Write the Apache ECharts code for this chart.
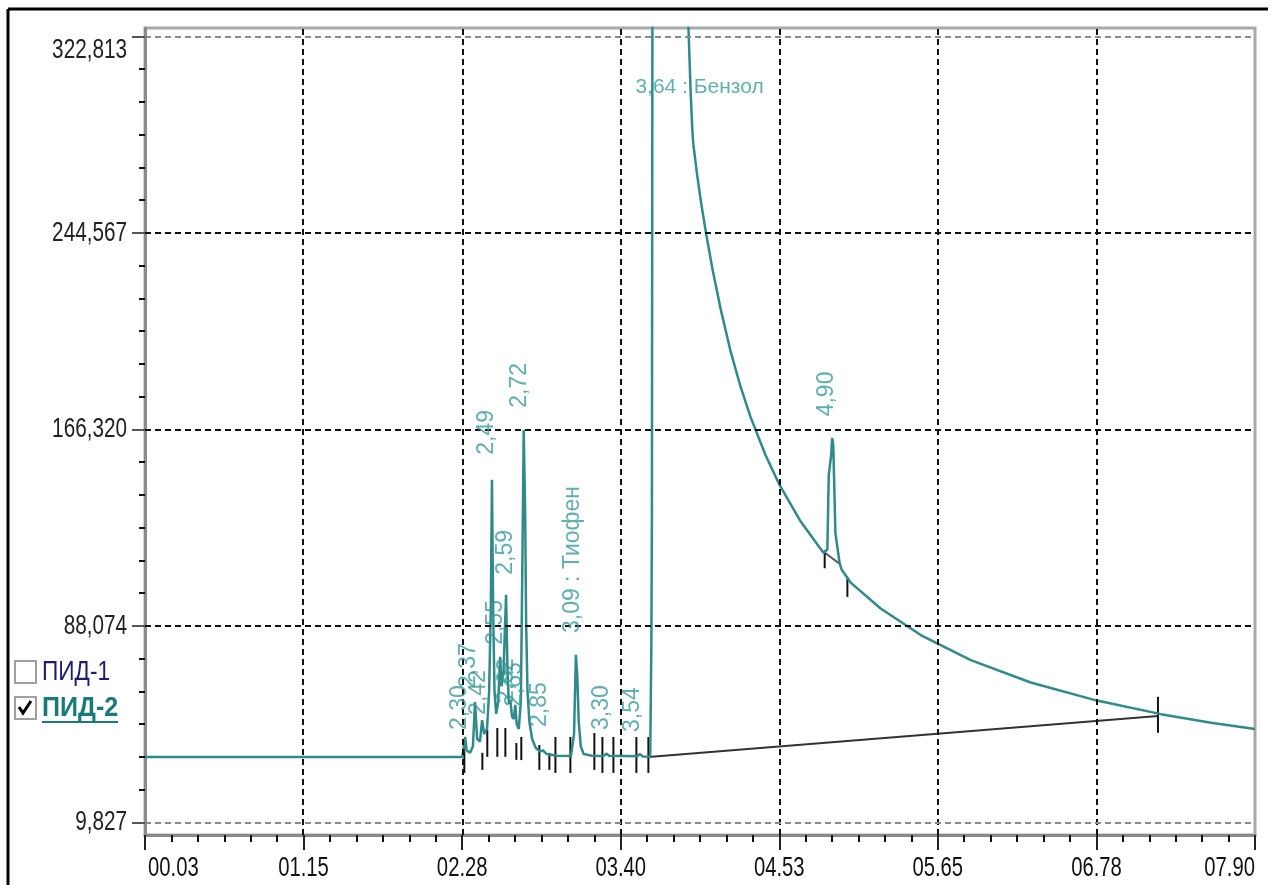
<!DOCTYPE html>
<html><head><meta charset="utf-8">
<script src="https://cdn.jsdelivr.net/npm/echarts@6/dist/echarts.min.js"></script>
<style>html,body{margin:0;padding:0;background:#fff;}#c{width:1275px;height:885px;}</style>
</head><body><div id="c"></div>
<script>
// ---- axis ticks ----
const xTickValues = [0.03, 1.154, 2.279, 3.403, 4.527, 5.651, 6.776, 7.90];
const xTickLabels = ['00.03','01.15','02.28','03.40','04.53','05.65','06.78','07.90'];
const yTickValues = [9.827, 88.074, 166.320, 244.567, 322.813];
const yTickLabels = ['9,827','88,074','166,320','244,567','322,813'];
const xRange = [0.03, 7.90];
const yRange = [4.77, 326.16];

// ---- detector signal (ПИД-2) [time, value] ----
const signal = [
 [0.03,35.85],[2.28,35.85],[2.292,36.2],[2.30,43.8],[2.31,38.5],[2.335,37.5],[2.355,40.0],
 [2.37,57.7],[2.385,43.0],[2.405,42.0],[2.42,50.5],[2.435,45.0],[2.455,47.0],[2.47,62],
 [2.482,96],[2.49,146.2],[2.498,96],[2.508,62],[2.52,53],[2.535,58],[2.548,75.7],[2.558,64],
 [2.572,70],[2.59,100.4],[2.60,70],[2.61,57],[2.62,58.6],[2.632,52],[2.645,51],[2.655,56.6],
 [2.665,49],[2.68,47],[2.695,58],[2.705,110],[2.715,166.1],[2.725,135],[2.732,90],[2.742,62],
 [2.755,50],[2.775,43],[2.80,39.5],[2.83,38],[2.85,38.5],[2.88,37],[2.95,36.3],[3.05,36.2],
 [3.072,45],[3.085,76.5],[3.095,68],[3.105,50],[3.12,40],[3.14,37],[3.20,36.3],[3.28,36.2],
 [3.30,37.2],[3.32,36.3],[3.52,36.1],[3.54,37.0],[3.56,36.0],[3.612,35.9],[3.62,80],[3.624,131],
 [3.63,460],[3.875,460],[3.883,326.3],[3.8905,314.3],[3.8976,302.4],[3.9047,292.8],[3.9117,284.5],
 [3.9188,279.3],[3.926,276.0],[3.9463,267.0],[3.9746,255.9],[4.011,243.4],[4.054,230.0],[4.1105,214.5],
 [4.181,197.6],[4.252,183.4],[4.323,171.3],[4.430,156.0],[4.529,144.2],[4.678,129.7],[4.841,117.1],
 [4.868,118.5],[4.878,148.3],[4.895,156],[4.902,162.9],[4.91,160],[4.925,125],[4.955,113],
 [4.969,110.5],[5.033,105.3],[5.246,95.0],[5.530,84.4],[5.885,74.4],[6.310,65.5],[6.779,58.3],
 [7.233,52.9],[7.588,49.5],[7.90,47.0]
];

// ---- integration baselines ----
const benzolBaseline = [[3.60,35.85],[7.212,52.2]];
const peak490Baseline = [[4.855,117.0],[4.962,112.5]];

// ---- peak start/end markers [time, low, high] ----
const markers = [
 [2.294,29.5,41.4],[2.422,30.7,37.5],[2.457,35.9,46.6],[2.528,35.9,47.4],[2.585,35.9,47.4],
 [2.663,34.7,41.4],[2.698,34.6,43.8],[2.826,30.7,40.6],[2.897,30.7,37.5],[2.940,29.5,43.8],
 [3.046,29.5,43.8],[3.216,30.7,45.4],[3.273,29.5,43.8],[3.351,29.5,43.8],[3.514,29.5,43.8],
 [3.599,29.5,43.8],[4.849,111.0,118.2],[5.01,99.6,107.5],[7.212,45.5,59.8]
];

// ---- peak labels [time, value, text] (label anchor) ----
const peakLabels = [
 [2.258,46.6,'2,30'],[2.322,63.3,'2,37'],[2.393,52.6,'2,42'],[2.450,156.2,'2,49'],
 [2.514,80.5,'2,55'],[2.585,108.4,'2,59'],[2.592,57.3,'2,62'],[2.649,55.8,'2,65'],
 [2.684,174.9,'2,72'],[2.826,47.8,'2,85'],[3.060,85.2,'3,09 : Тиофен'],[3.266,46.6,'3,30'],
 [3.486,45.8,'3,54'],[4.863,171.5,'4,90']
];
const benzolLabel = [[3.507,302.4,'3,64 : Бензол']];

// ---- legend entries ----
const legendNames = ['ПИД-1','ПИД-2'];

// ---- derived minor ticks ----
function minors(vals){const out=[];for(let i=0;i<vals.length-1;i++){const s=(vals[i+1]-vals[i])/6;for(let k=1;k<6;k++)out.push(vals[i]+k*s);}return out;}
const xMinor = minors(xTickValues);
const yMinor = minors(yTickValues);

const SANS = "'Liberation Sans',Arial,sans-serif";
const TEAL = '#308a8a';

const chart = echarts.init(document.getElementById('c'), null, {renderer:'canvas'});
const option = {
 animation:false,
 backgroundColor:'#fff',
 grid:{left:145,right:20,top:28,bottom:50,show:true,borderColor:'#a8a8a8',borderWidth:3,backgroundColor:'#fff'},
 xAxis:[
  {type:'value',min:xRange[0],max:xRange[1],position:'bottom',
   axisLine:{show:true,onZero:false,lineStyle:{color:'#8a8a8a',width:3}},
   axisTick:{show:true,customValues:xTickValues,length:15,lineStyle:{color:'#222',width:2}},
   axisLabel:{show:false},splitLine:{show:false}},
  {type:'value',min:xRange[0],max:xRange[1],position:'bottom',
   axisLine:{show:false,onZero:false},
   axisTick:{show:true,customValues:xMinor,length:7,lineStyle:{color:'#111',width:2}},
   axisLabel:{show:false},splitLine:{show:false}}
 ],
 yAxis:[
  {type:'value',min:yRange[0],max:yRange[1],position:'left',
   axisLine:{show:true,onZero:false,lineStyle:{color:'#8a8a8a',width:3}},
   axisTick:{show:true,customValues:yTickValues,length:13,lineStyle:{color:'#555',width:2}},
   axisLabel:{show:false},splitLine:{show:false}},
  {type:'value',min:yRange[0],max:yRange[1],position:'left',offset:0,
   axisLine:{show:false,onZero:false},
   axisTick:{show:true,customValues:yMinor,length:6,lineStyle:{color:'#111',width:2}},
   axisLabel:{show:false},splitLine:{show:false}}
 ],
 series:[
  {type:'line',data:[],z:1,silent:true,
   markLine:{silent:true,symbol:['none','none'],label:{show:false},animation:false,
    lineStyle:{type:[6,4],color:'#111',width:2},
    data:[
     ...xTickValues.slice(1,-1).map(v=>({xAxis:v})),
     ...yTickValues.map((v,i)=>({yAxis:v,lineStyle:{color:(i===0||i===yTickValues.length-1)?'#8a8a8a':'#111'}}))
    ]}},
  {type:'line',data:benzolBaseline,z:2,showSymbol:false,symbol:'none',lineStyle:{color:'#333',width:2}},
  {type:'line',data:peak490Baseline,z:2,showSymbol:false,symbol:'none',lineStyle:{color:'#555',width:2}},
  {type:'custom',z:3,data:markers,
   renderItem:(params,api)=>{
     const p1=api.coord([api.value(0),api.value(1)]);
     const p2=api.coord([api.value(0),api.value(2)]);
     return {type:'line',shape:{x1:p1[0],y1:p1[1],x2:p2[0],y2:p2[1]},style:{stroke:'#111',lineWidth:2}};
   },encode:{x:0,y:[1,2]}},
  {type:'line',data:signal,z:4,showSymbol:false,symbol:'none',clip:true,
   lineStyle:{color:TEAL,width:2.5}},
  {type:'scatter',z:5,symbolSize:0,data:peakLabels,silent:true,
   label:{show:true,formatter:p=>p.data[2],position:'inside',rotate:90,align:'left',verticalAlign:'middle',
     fontFamily:SANS,fontSize:23,color:'#3a9a9a'}},
  {type:'scatter',z:5,symbolSize:0,data:benzolLabel,silent:true,
   label:{show:true,formatter:p=>p.data[2],position:'inside',align:'left',verticalAlign:'middle',
     fontFamily:SANS,fontSize:21,color:'#3a9a9a'}}
 ]
};
chart.setOption(option);

// ---- frame, legend, and tick labels in a condensed face placed through the axis scales ----
const gfx = [
  {type:'line',shape:{x1:8,y1:9,x2:1268,y2:9},style:{stroke:'#000',lineWidth:3}},
  {type:'line',shape:{x1:8,y1:9,x2:8,y2:885},style:{stroke:'#000',lineWidth:3}},
  {type:'rect',shape:{x:15,y:661,width:21,height:22},style:{fill:'#fff',stroke:'#a0a0a0',lineWidth:2}},
  {type:'text',x:42,y:673,scaleX:0.84,style:{text:legendNames[0],font:"27px "+SANS,fill:'#1c1c70',verticalAlign:'middle'}},
  {type:'rect',shape:{x:15,y:697,width:21,height:22},style:{fill:'#fff',stroke:'#a0a0a0',lineWidth:2}},
  {type:'polyline',shape:{points:[[19,707],[23,713],[31,701]]},style:{stroke:'#000',lineWidth:3,fill:null}},
  {type:'text',x:42,y:709,scaleX:0.93,style:{text:legendNames[1],font:"bold 27px "+SANS,fill:'#1a7a7a',verticalAlign:'middle'}},
  {type:'line',shape:{x1:42,y1:722,x2:118,y2:722},style:{stroke:'#1a7a7a',lineWidth:2}}
];
const axisY0 = chart.convertToPixel({yAxisIndex:0}, yRange[0]);
const axisX0 = chart.convertToPixel({xAxisIndex:0}, xRange[0]);
yTickValues.forEach((v,i)=>{
  const py = chart.convertToPixel({yAxisIndex:0}, v);
  const last = i===yTickValues.length-1;
  gfx.push({type:'text',x:axisX0-18,y:py,scaleX:0.74,
    style:{text:yTickLabels[i],font:"28px "+SANS,fill:'#222',align:'right',verticalAlign:last?'top':'middle'}});
});
xTickValues.forEach((v,i)=>{
  const px = chart.convertToPixel({xAxisIndex:0}, v);
  const first = i===0, last = i===xTickValues.length-1;
  gfx.push({type:'text',x:first?px+3:px,y:axisY0+34,scaleX:0.75,
    style:{text:xTickLabels[i],font:"27px "+SANS,fill:'#111',align:first?'left':(last?'right':'center'),verticalAlign:'middle'}});
});
chart.setOption({graphic:gfx});
</script></body></html>
